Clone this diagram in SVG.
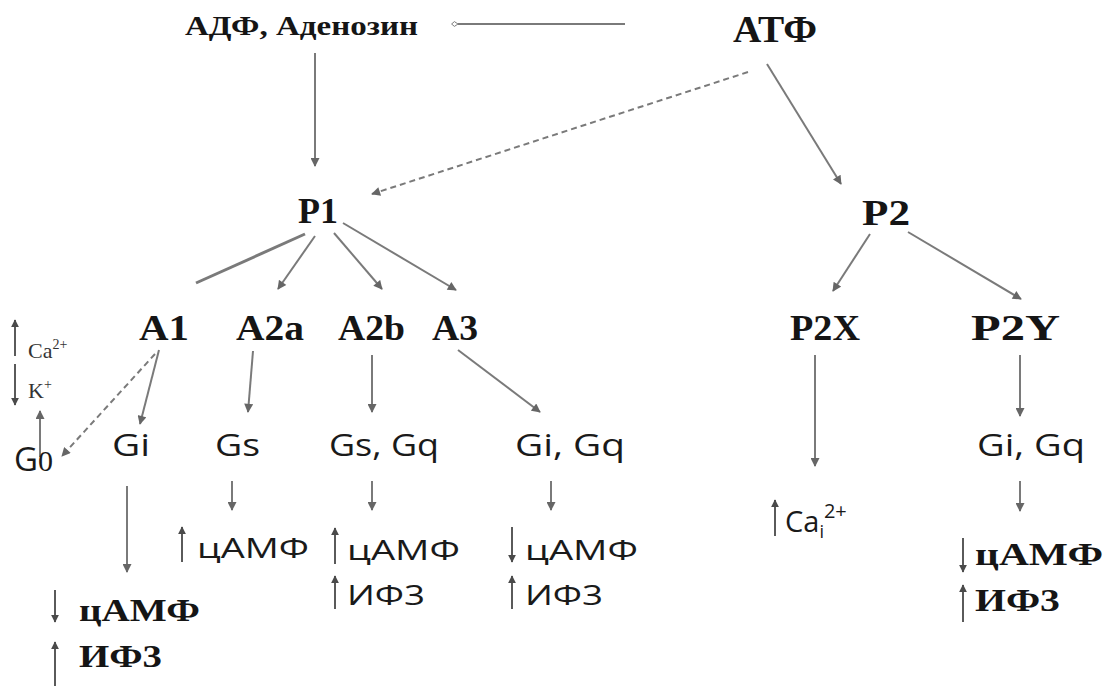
<svg xmlns="http://www.w3.org/2000/svg" width="1107" height="686" viewBox="0 0 1107 686">
  <defs>
    <style>
      .hd { font-family: "Liberation Serif", "Times New Roman", serif; font-weight: bold; fill: #151515; }
      .g  { font-family: "Open Sans", "Noto Sans", sans-serif; fill: #1a1a1a; }
      .sm { font-family: "Liberation Serif", "Times New Roman", serif; fill: #333; }
      .rg { font-family: "Open Sans", "Noto Sans", sans-serif; fill: #1a1a1a; }
      .bd { font-family: "Liberation Serif", "Times New Roman", serif; font-weight: bold; fill: #151515; }
      .ln { stroke: #7a7a7a; stroke-width: 2; fill: none; }
      .dash { stroke-dasharray: 6 4; }
      .ind { stroke: #5a5a5a; stroke-width: 2; fill: none; }
    </style>
    <marker id="ah" viewBox="0 0 10 10" refX="9" refY="5" markerWidth="10" markerHeight="9" markerUnits="userSpaceOnUse" orient="auto">
      <path d="M0,0 L10,5 L0,10 Z" fill="#666"/>
    </marker>
    <marker id="ahs" viewBox="0 0 10 10" refX="9" refY="5" markerWidth="8" markerHeight="8" markerUnits="userSpaceOnUse" orient="auto">
      <path d="M0,0 L10,5 L0,10 Z" fill="#4a4a4a"/>
    </marker>
    <marker id="ring" viewBox="0 0 10 10" refX="1" refY="5" markerWidth="10" markerHeight="8" markerUnits="userSpaceOnUse" orient="auto">
      <path d="M1,5 L5.5,2 L9,5 L5.5,8 Z" fill="#fff" stroke="#777" stroke-width="1.2"/>
    </marker>
  </defs>

  <rect width="1107" height="686" fill="#ffffff"/>

  <!-- connectors -->
  <g id="connectors">
    <line class="ln" x1="625" y1="24" x2="458" y2="24" marker-end="url(#ring)"/>
    <line class="ln" x1="315" y1="53" x2="315" y2="166" marker-end="url(#ah)"/>
    <line class="ln dash" x1="748" y1="72" x2="372" y2="194" marker-end="url(#ah)"/>
    <line class="ln" x1="767" y1="64" x2="841" y2="184" marker-end="url(#ah)"/>

    <line class="ln" style="stroke-width:3" x1="305" y1="234" x2="196" y2="283"/>
    <line class="ln" x1="315" y1="236" x2="278" y2="289" marker-end="url(#ah)"/>
    <line class="ln" x1="334" y1="233" x2="382" y2="289" marker-end="url(#ah)"/>
    <line class="ln" x1="343" y1="223" x2="456" y2="290" marker-end="url(#ah)"/>

    <line class="ln" x1="870" y1="234" x2="833" y2="291" marker-end="url(#ah)"/>
    <line class="ln" x1="908" y1="232" x2="1021" y2="299" marker-end="url(#ah)"/>

    <line class="ln" x1="159" y1="350" x2="140" y2="424" marker-end="url(#ah)"/>
    <line class="ln dash" x1="155" y1="354" x2="62" y2="456" marker-end="url(#ah)"/>
    <line class="ln" x1="40" y1="457" x2="40" y2="411" marker-end="url(#ah)"/>
    <line class="ln" x1="127" y1="486" x2="127" y2="572" marker-end="url(#ah)"/>

    <line class="ln" x1="253" y1="351" x2="248" y2="412" marker-end="url(#ah)"/>
    <line class="ln" x1="232" y1="481" x2="232" y2="510" marker-end="url(#ah)"/>

    <line class="ln" x1="372" y1="355" x2="372" y2="412" marker-end="url(#ah)"/>
    <line class="ln" x1="372" y1="481" x2="372" y2="510" marker-end="url(#ah)"/>

    <line class="ln" x1="458" y1="350" x2="540" y2="412" marker-end="url(#ah)"/>
    <line class="ln" x1="551" y1="481" x2="551" y2="510" marker-end="url(#ah)"/>

    <line class="ln" x1="815" y1="355" x2="815" y2="466" marker-end="url(#ah)"/>
    <line class="ln" x1="1020" y1="355" x2="1020" y2="416" marker-end="url(#ah)"/>
    <line class="ln" x1="1020" y1="481" x2="1020" y2="511" marker-end="url(#ah)"/>
  </g>

  <!-- top level -->
  <g id="adp"><text class="hd" x="185" y="35" font-size="28" textLength="233" lengthAdjust="spacingAndGlyphs">АДФ, Аденозин</text></g>
  <g id="atp"><text class="hd" x="733" y="42" font-size="37" textLength="84" lengthAdjust="spacingAndGlyphs">АТФ</text></g>

  <!-- receptor families -->
  <g id="p1"><text class="hd" x="298" y="223" font-size="36" textLength="40" lengthAdjust="spacingAndGlyphs">P1</text></g>
  <g id="p2"><text class="hd" x="862" y="225" font-size="36" textLength="48" lengthAdjust="spacingAndGlyphs">P2</text></g>

  <!-- receptor subtypes -->
  <g id="a1"><text class="hd" x="139" y="340" font-size="36" textLength="50" lengthAdjust="spacingAndGlyphs">A1</text></g>
  <g id="a2a"><text class="hd" x="236" y="340" font-size="36" textLength="68" lengthAdjust="spacingAndGlyphs">A2a</text></g>
  <g id="a2b"><text class="hd" x="338" y="340" font-size="36" textLength="67" lengthAdjust="spacingAndGlyphs">A2b</text></g>
  <g id="a3"><text class="hd" x="432" y="340" font-size="36" textLength="46" lengthAdjust="spacingAndGlyphs">A3</text></g>
  <g id="p2x"><text class="hd" x="790" y="340" font-size="36" textLength="70" lengthAdjust="spacingAndGlyphs">P2X</text></g>
  <g id="p2y"><text class="hd" x="971" y="340" font-size="36" textLength="89" lengthAdjust="spacingAndGlyphs">P2Y</text></g>

  <!-- ion effects of G0 -->
  <g id="ions">
    <line class="ind" x1="15" y1="356" x2="15" y2="320" marker-end="url(#ahs)"/>
    <text class="sm" x="28" y="358" font-size="22">Ca<tspan font-size="14" dy="-9">2+</tspan></text>
    <line class="ind" x1="15" y1="364" x2="15" y2="405" marker-end="url(#ahs)"/>
    <text class="sm" x="28" y="398" font-size="22">K<tspan font-size="14" dy="-9">+</tspan></text>
  </g>

  <!-- G proteins -->
  <g id="g0"><text class="g" x="14" y="471" font-size="33">G<tspan font-family="Liberation Serif, serif" font-size="30">0</tspan></text></g>
  <g id="gi"><text class="g" x="112" y="456" font-size="31" textLength="38" lengthAdjust="spacingAndGlyphs">Gi</text></g>
  <g id="gs"><text class="g" x="215" y="456" font-size="31" textLength="45" lengthAdjust="spacingAndGlyphs">Gs</text></g>
  <g id="gsgq"><text class="g" x="329" y="456" font-size="31" textLength="110" lengthAdjust="spacingAndGlyphs">Gs, Gq</text></g>
  <g id="gigq1"><text class="g" x="515" y="456" font-size="31" textLength="110" lengthAdjust="spacingAndGlyphs">Gi, Gq</text></g>
  <g id="gigq2"><text class="g" x="977" y="456" font-size="31" textLength="108" lengthAdjust="spacingAndGlyphs">Gi, Gq</text></g>

  <!-- second messengers -->
  <g id="gi-out">
    <line class="ind" x1="55" y1="590" x2="55" y2="622" marker-end="url(#ahs)"/>
    <text class="bd" x="79" y="621" font-size="31" textLength="121" lengthAdjust="spacingAndGlyphs">цАМФ</text>
    <line class="ind" x1="55" y1="686" x2="55" y2="642" marker-end="url(#ahs)"/>
    <text class="bd" x="79" y="667" font-size="31" textLength="83" lengthAdjust="spacingAndGlyphs">ИФ3</text>
  </g>
  <g id="gs-out">
    <line class="ind" x1="182" y1="562" x2="182" y2="527" marker-end="url(#ahs)"/>
    <text class="rg" x="197" y="558" font-size="27" textLength="112" lengthAdjust="spacingAndGlyphs">цАМФ</text>
  </g>
  <g id="gsgq-out">
    <line class="ind" x1="335" y1="564" x2="335" y2="528" marker-end="url(#ahs)"/>
    <text class="rg" x="347" y="560" font-size="27" textLength="113" lengthAdjust="spacingAndGlyphs">цАМФ</text>
    <line class="ind" x1="335" y1="609" x2="335" y2="576" marker-end="url(#ahs)"/>
    <text class="rg" x="347" y="605" font-size="27" textLength="78" lengthAdjust="spacingAndGlyphs">ИФ3</text>
  </g>
  <g id="gigq1-out">
    <line class="ind" x1="512" y1="527" x2="512" y2="562" marker-end="url(#ahs)"/>
    <text class="rg" x="525" y="560" font-size="27" textLength="113" lengthAdjust="spacingAndGlyphs">цАМФ</text>
    <line class="ind" x1="512" y1="609" x2="512" y2="576" marker-end="url(#ahs)"/>
    <text class="rg" x="525" y="605" font-size="27" textLength="78" lengthAdjust="spacingAndGlyphs">ИФ3</text>
  </g>
  <g id="p2x-out">
    <line class="ind" x1="775" y1="536" x2="775" y2="500" marker-end="url(#ahs)"/>
    <text class="rg" x="785" y="532" font-size="29">Ca<tspan font-size="18" dy="6">i</tspan><tspan font-size="20" dy="-20">2+</tspan></text>
  </g>
  <g id="p2y-out">
    <line class="ind" x1="963" y1="538" x2="963" y2="572" marker-end="url(#ahs)"/>
    <text class="bd" x="975" y="565" font-size="31" textLength="128" lengthAdjust="spacingAndGlyphs">цАМФ</text>
    <line class="ind" x1="963" y1="622" x2="963" y2="585" marker-end="url(#ahs)"/>
    <text class="bd" x="975" y="611" font-size="31" textLength="85" lengthAdjust="spacingAndGlyphs">ИФ3</text>
  </g>
</svg>
